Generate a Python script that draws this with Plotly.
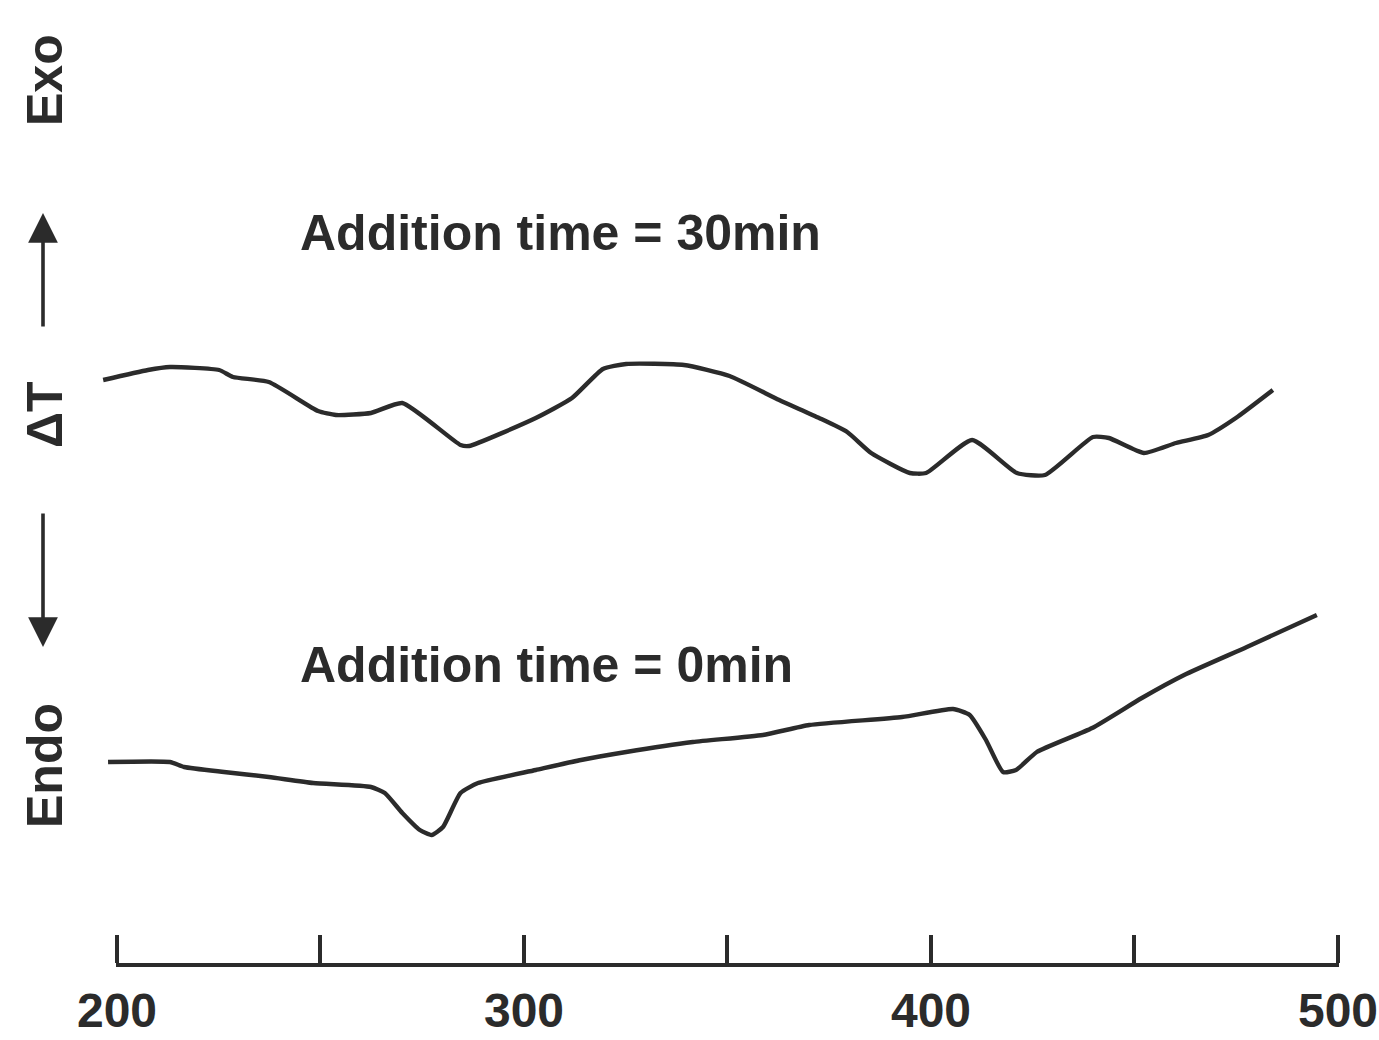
import plotly.graph_objects as go

# ---------------- data ----------------
# temperature (deg C) and DeltaT (arbitrary units) for the two DTA curves
temp_30min = [196.6, 207.6, 213.0, 225.1, 228.5, 237.3, 249.4, 253.8, 262.4, 270.1,
              284.4, 286.5, 302.9, 311.8, 319.4, 325.1, 339.3, 350.5, 362.7, 372.5,
              379.4, 385.3, 394.8, 398.8, 410.1, 421.1, 428.0, 439.8, 443.7, 452.3,
              460.2, 468.1, 474.9, 484.0]
dT_30min = [66.0, 67.0, 67.3, 67.0, 66.3, 65.8, 62.9, 62.5, 62.7, 63.7,
            59.5, 59.4, 62.2, 64.2, 67.1, 67.6, 67.5, 66.4, 64.0, 62.2,
            60.8, 58.7, 56.7, 56.7, 60.0, 56.7, 56.5, 60.3, 60.2, 58.7,
            59.7, 60.5, 62.2, 65.0]

temp_0min = [197.8, 213.0, 216.5, 226.3, 237.3, 248.2, 262.4, 265.8, 270.1, 274.4,
             277.3, 280.1, 284.4, 288.7, 302.9, 314.0, 325.1, 341.5, 358.7, 370.1,
             392.9, 405.4, 409.5, 413.5, 417.7, 420.9, 426.0, 439.6, 451.8, 462.2,
             477.6, 494.8]
dT_0min = [27.8, 27.8, 27.3, 26.8, 26.3, 25.7, 25.3, 24.7, 22.7, 21.0,
           20.5, 21.3, 24.7, 25.7, 27.0, 28.0, 28.8, 29.8, 30.5, 31.5,
           32.3, 33.1, 32.5, 30.0, 26.8, 27.0, 28.8, 31.2, 34.2, 36.5,
           39.3, 42.5]

tick_values = [200, 250, 300, 350, 400, 450, 500]
tick_labels = ["200", "", "300", "", "400", "", "500"]

label_30 = "Addition time = 30min"
label_0 = "Addition time = 0min"

# ---------------- styling ----------------
W, H = 1379, 1040
INK = "#2b2b2b"
FONT = "Liberation Sans, Arial, sans-serif"
FS = 50
FS_TICK = 48

def px(x):
    return x / W

def py(y):
    return 1 - y / H

fig = go.Figure()
for xs, ys in [(temp_30min, dT_30min), (temp_0min, dT_0min)]:
    fig.add_trace(go.Scatter(
        x=xs, y=ys, mode="lines",
        line=dict(color=INK, width=4.4, shape="spline", smoothing=0.5),
        hoverinfo="skip", showlegend=False,
        xaxis="x", yaxis="y",
    ))

# invisible anchor trace so the temperature axis subplot is drawn
fig.add_trace(go.Scatter(
    x=[tick_values[0], tick_values[-1]], y=[0.5, 0.5], mode="markers",
    marker=dict(opacity=0, size=1), hoverinfo="skip", showlegend=False,
    xaxis="x2", yaxis="y2",
))

# x scale: 200 -> pixel 117, 500 -> pixel 1338
scale = (1338 - 117) / 300.0
x_lo = 200 - 117 / scale
x_hi = 200 + (W - 117) / scale
eps = 0.3  # keep end ticks inside the axis range

bold = dict(family=FONT, size=FS, color=INK, weight="bold")
annotations = [
    dict(text=label_30, x=px(298), y=py(233), xref="paper", yref="paper",
         xanchor="left", yanchor="middle", showarrow=False, font=bold),
    dict(text=label_0, x=px(298), y=py(665), xref="paper", yref="paper",
         xanchor="left", yanchor="middle", showarrow=False, font=bold),
    dict(text="Exo", x=px(45), y=py(80), xref="paper", yref="paper",
         xanchor="center", yanchor="middle", textangle=-90, showarrow=False, font=bold),
    dict(text="ΔT", x=px(45), y=py(415), xref="paper", yref="paper",
         xanchor="center", yanchor="middle", textangle=-90, showarrow=False, font=bold),
    dict(text="Endo", x=px(45), y=py(765), xref="paper", yref="paper",
         xanchor="center", yanchor="middle", textangle=-90, showarrow=False, font=bold),
    # arrows
    dict(text="", x=px(43), y=py(213), xref="paper", yref="paper",
         showarrow=True, ax=0, ay=115, arrowhead=2, arrowsize=1.65,
         arrowwidth=3.6, arrowcolor=INK),
    dict(text="", x=px(43), y=py(647), xref="paper", yref="paper",
         showarrow=True, ax=0, ay=-135, arrowhead=2, arrowsize=1.65,
         arrowwidth=3.6, arrowcolor=INK),
]

fig.update_layout(
    width=W, height=H,
    margin=dict(l=0, r=0, t=0, b=0, autoexpand=False),
    paper_bgcolor="white", plot_bgcolor="rgba(0,0,0,0)",
    showlegend=False,
    xaxis=dict(domain=[0, 1], range=[x_lo, x_hi], visible=False, fixedrange=True),
    yaxis=dict(domain=[0, 1], range=[0, 104], visible=False, fixedrange=True),
    xaxis2=dict(domain=[(117 - eps * scale) / W, (1338 + eps * scale) / W],
                range=[200 - eps, 500 + eps], anchor="y2",
                showline=True, linecolor=INK, linewidth=4,
                showgrid=False, zeroline=False, fixedrange=True,
                tickmode="array", tickvals=tick_values, ticktext=tick_labels,
                ticks="inside", ticklen=28, tickwidth=3.5, tickcolor=INK,
                ticklabelstandoff=2, ticklabeloverflow="allow",
                tickfont=dict(family=FONT, size=FS_TICK, color=INK, weight="bold")),
    yaxis2=dict(domain=[(H - 963) / H, (H - 940) / H], range=[0, 1], anchor="x2",
                visible=False, fixedrange=True),
    annotations=annotations,
)

fig.write_html("out.html", config={"displayModeBar": False},
               post_script="document.body.style.margin='0';")
